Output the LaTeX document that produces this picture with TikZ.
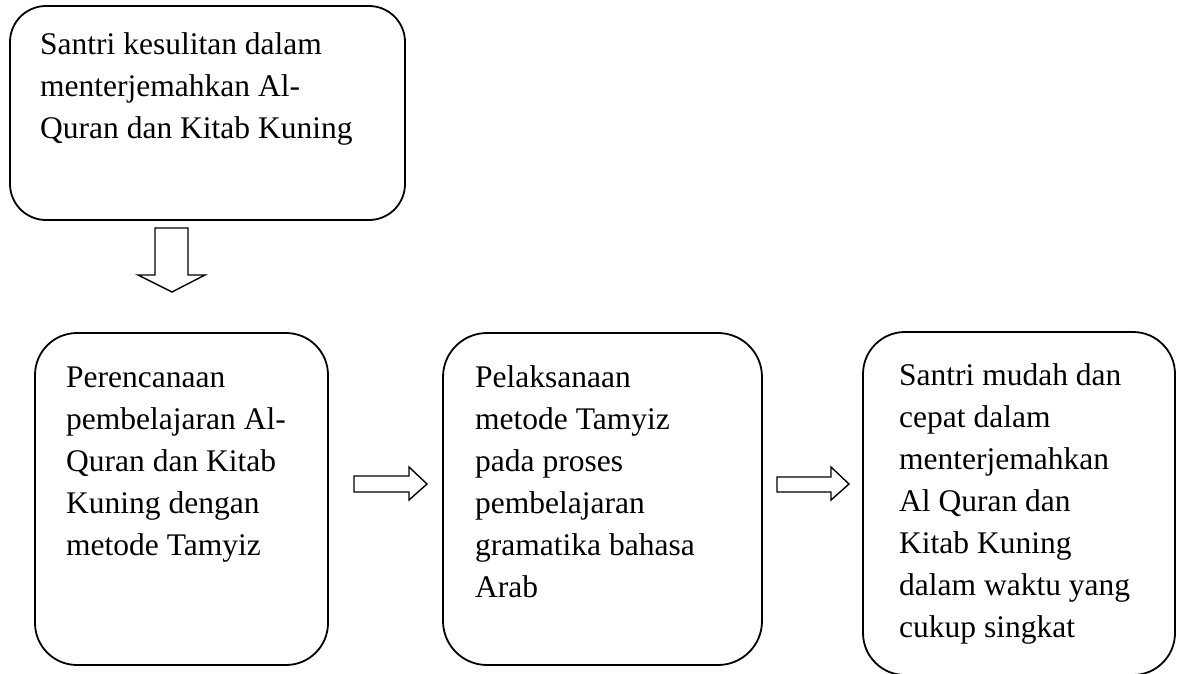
\documentclass[tikz,border=0pt]{standalone}
\usepackage{fontspec}
\setmainfont{Liberation Serif}
\begin{document}
\begin{tikzpicture}[x=1pt,y=-1pt,
  box/.style={draw, line width=1.8pt, inner sep=0pt, outer sep=0pt, anchor=north west},
  txt/.style={font=\fontsize{31.5}{42}\selectfont, align=left, inner sep=0pt, anchor=base west},
  blockarrow/.style={draw, line width=1.4pt, line join=miter, fill=white}]
\useasboundingbox (0,0) rectangle (1177,674);
% boxes
\node[box, rounded corners=36pt, minimum width=395pt, minimum height=214pt] (b0) at (10,6) {};
\node[box, rounded corners=42pt, minimum width=293pt, minimum height=332pt] (b1) at (35,333) {};
\node[box, rounded corners=44pt, minimum width=319pt, minimum height=332pt] (b2) at (443,333) {};
\node[box, rounded corners=42pt, minimum width=312pt, minimum height=343pt] (b3) at (863,332) {};
% texts (base anchor = baseline of the last line)
\node[txt] (t0) at (40,139) {Santri kesulitan dalam\\menterjemahkan Al-\\Quran dan Kitab Kuning};
\node[txt] (t1) at (66,555) {Perencanaan\\pembelajaran Al-\\Quran dan Kitab\\Kuning dengan\\metode Tamyiz};
\node[txt] (t2) at (475,597) {Pelaksanaan\\metode Tamyiz\\pada proses\\pembelajaran\\gramatika bahasa\\Arab};
\node[txt] (t3) at (899,637) {Santri mudah dan\\cepat dalam\\menterjemahkan\\Al Quran dan\\Kitab Kuning\\dalam waktu yang\\cukup singkat};
% block arrows
\draw[blockarrow] (155,228) -- (188,228) -- (188,275) -- (205,275) -- (172,292) -- (138,275) -- (155,275) -- cycle;
\draw[blockarrow] (354,476) -- (409,476) -- (409,467) -- (427,484) -- (409,500) -- (409,492) -- (354,492) -- cycle;
\draw[blockarrow] (777,477) -- (831,477) -- (831,467) -- (849,484) -- (831,500) -- (831,492) -- (777,492) -- cycle;
\end{tikzpicture}
\end{document}
